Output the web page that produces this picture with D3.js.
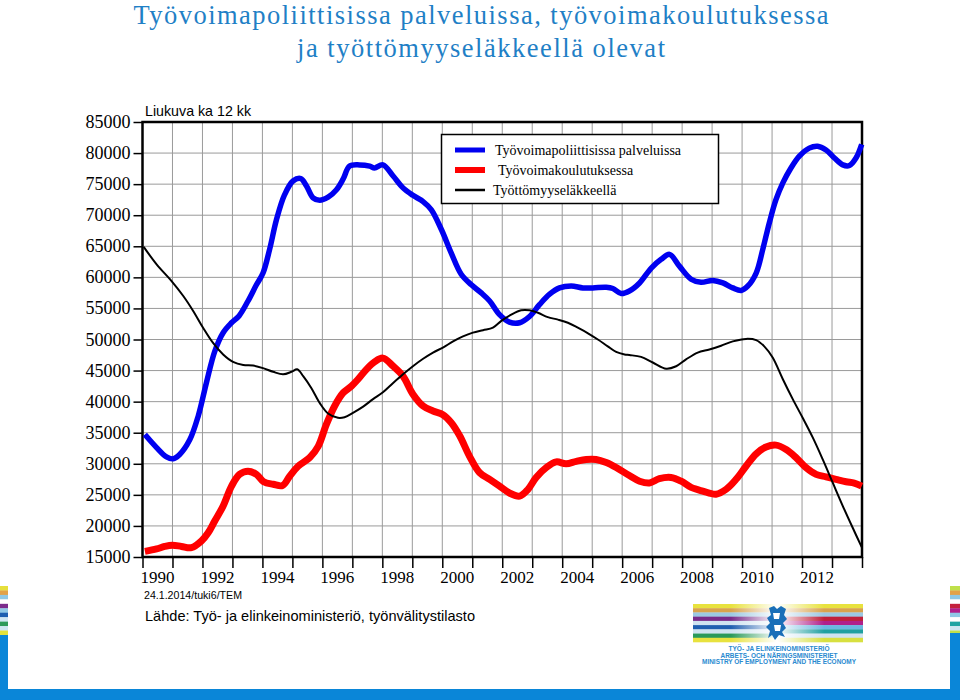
<!DOCTYPE html>
<html><head><meta charset="utf-8">
<script src="https://cdn.jsdelivr.net/npm/d3@7/dist/d3.min.js"></script>
<style>
html,body{margin:0;padding:0;background:#fff;}
svg{display:block;}
</style></head>
<body>
<svg id="c" width="960" height="700"></svg>
<script>
// ---- data (12-month moving averages) ----
const titleLines = ["Työvoimapoliittisissa palveluissa, työvoimakoulutuksessa", "ja työttömyyseläkkeellä olevat"];
const seriesNames = ["Työvoimapoliittisissa palveluissa", "Työvoimakoulutuksessa", "Työttömyyseläkkeellä"];
const yTicks = [15000,20000,25000,30000,35000,40000,45000,50000,55000,60000,65000,70000,75000,80000,85000];
const yearTicks = [1990,1991,1992,1993,1994,1995,1996,1997,1998,1999,2000,2001,2002,2003,2004,2005,2006,2007,2008,2009,2010,2011,2012,2013,2014];
const yearLabels = [1990,1992,1994,1996,1998,2000,2002,2004,2006,2008,2010,2012];

const palvelut = [[1990.08,34700],[1990.47,32600],[1990.8,31100],[1991.02,30800],[1991.24,31500],[1991.58,33900],[1991.86,37700],[1992.13,43000],[1992.41,48100],[1992.69,51100],[1992.97,52700],[1993.22,53800],[1993.52,56200],[1993.8,58800],[1994.02,60700],[1994.24,64500],[1994.47,69300],[1994.74,73300],[1995.02,75500],[1995.28,75900],[1995.47,74700],[1995.69,72800],[1995.91,72400],[1996.19,72900],[1996.47,74100],[1996.69,75800],[1996.91,77900],[1997.24,78100],[1997.58,77900],[1997.74,77600],[1998.02,78100],[1998.36,76300],[1998.69,74400],[1999.02,73200],[1999.36,72200],[1999.63,70900],[1999.97,67700],[2000.3,63900],[2000.63,60500],[2000.97,58800],[2001.3,57500],[2001.58,56200],[2001.91,54000],[2002.24,52800],[2002.58,52700],[2002.91,53700],[2003.24,55600],[2003.58,57300],[2003.91,58300],[2004.3,58600],[2004.69,58300],[2005.02,58300],[2005.47,58400],[2005.69,58200],[2005.97,57400],[2006.24,57800],[2006.58,59100],[2006.97,61500],[2007.3,62900],[2007.58,63700],[2007.91,61800],[2008.3,59700],[2008.63,59200],[2009.02,59500],[2009.36,59100],[2009.69,58300],[2009.97,57900],[2010.19,58600],[2010.47,60700],[2010.69,64500],[2010.91,68800],[2011.13,72500],[2011.36,75200],[2011.63,77600],[2011.91,79500],[2012.24,80800],[2012.52,81100],[2012.8,80500],[2013.08,79200],[2013.36,78100],[2013.58,78000],[2013.8,79200],[2013.99,81400]];

const koulutus = [[1990.08,15900],[1990.47,16300],[1990.74,16700],[1991.0,16900],[1991.3,16700],[1991.63,16500],[1991.97,17600],[1992.19,18900],[1992.41,20800],[1992.69,23200],[1992.97,26400],[1993.24,28300],[1993.52,28800],[1993.8,28300],[1994.04,27100],[1994.36,26700],[1994.67,26500],[1994.91,28000],[1995.19,29600],[1995.58,31000],[1995.86,32800],[1996.13,36300],[1996.41,39300],[1996.69,41400],[1996.97,42500],[1997.19,43600],[1997.47,45200],[1997.74,46400],[1998.02,47000],[1998.36,45700],[1998.69,44100],[1999.02,41200],[1999.36,39300],[1999.69,38500],[2000.02,37900],[2000.3,36600],[2000.58,34500],[2000.91,31200],[2001.24,28600],[2001.58,27500],[2001.91,26400],[2002.24,25300],[2002.58,24800],[2002.86,25900],[2003.13,27800],[2003.47,29400],[2003.8,30300],[2004.13,30000],[2004.47,30400],[2004.8,30700],[2005.13,30700],[2005.47,30200],[2005.8,29400],[2006.24,28100],[2006.58,27200],[2006.91,26900],[2007.24,27600],[2007.63,27800],[2007.97,27200],[2008.3,26200],[2008.69,25600],[2009.13,25100],[2009.47,25900],[2009.8,27500],[2010.13,29600],[2010.47,31600],[2010.8,32700],[2011.13,33000],[2011.47,32300],[2011.8,31000],[2012.13,29400],[2012.47,28300],[2012.8,27900],[2013.13,27500],[2013.47,27100],[2013.74,26900],[2013.99,26400]];

const elake = [[1990.04,64900],[1990.47,62100],[1990.97,59400],[1991.36,57000],[1991.69,54600],[1992.02,51900],[1992.36,49400],[1992.69,47600],[1993.02,46400],[1993.36,45900],[1993.69,45800],[1994.02,45400],[1994.36,44800],[1994.69,44400],[1994.97,44800],[1995.16,45200],[1995.36,44100],[1995.63,42200],[1995.91,39800],[1996.19,38100],[1996.52,37400],[1996.74,37500],[1997.02,38200],[1997.36,39200],[1997.69,40400],[1998.02,41500],[1998.36,43000],[1998.69,44400],[1999.02,45700],[1999.36,46900],[1999.69,47900],[2000.02,48700],[2000.36,49700],[2000.69,50500],[2001.02,51100],[2001.36,51500],[2001.69,51900],[2001.97,53000],[2002.3,54000],[2002.63,54700],[2002.91,54700],[2003.19,54300],[2003.52,53600],[2003.86,53200],[2004.19,52700],[2004.52,51900],[2004.86,51000],[2005.19,50000],[2005.52,48900],[2005.8,48000],[2006.08,47600],[2006.24,47500],[2006.63,47200],[2007.02,46300],[2007.47,45300],[2007.8,45700],[2008.13,46800],[2008.52,47900],[2008.91,48400],[2009.3,49000],[2009.69,49700],[2010.13,50100],[2010.47,49900],[2010.74,48900],[2011.02,47100],[2011.36,43600],[2011.69,40400],[2012.02,37400],[2012.36,34200],[2012.69,30700],[2013.02,27000],[2013.36,23200],[2013.69,19700],[2013.99,16600]];

const seriesColors = ["#0000f0", "#ff0000", "#000000"];
const seriesWidths = [5.5, 7, 2];

// ---- drawing ----
const svg = d3.select("#c");
const SERIF = "'Liberation Serif', 'Times New Roman', Times, serif";
const SANS = "'Liberation Sans', Arial, Helvetica, sans-serif";
const BRAND = "#0a86d8";

const x = d3.scaleLinear().domain([1990, 2014]).range([142.5, 862]);
const y = d3.scaleLinear().domain([15000, 85000]).range([557, 122]);

// title
const titleLen = [695, 368];
svg.selectAll("text.title").data(titleLines).enter().append("text")
  .attr("x", 481).attr("y", (d,i)=> i===0 ? 23.5 : 57)
  .attr("text-anchor","middle")
  .attr("textLength",(d,i)=>titleLen[i]).attr("lengthAdjust","spacing")
  .style("font-family", SERIF).style("font-size","26.5px").attr("fill","#1f80c6")
  .text(d=>d);

// grid
const grid = svg.append("g");
grid.selectAll("line.v").data(yearTicks).enter().append("line")
  .attr("x1", d=>x(d)).attr("x2", d=>x(d)).attr("y1", y(85000)).attr("y2", y(15000))
  .attr("stroke","#9a9a9a").attr("stroke-width",1);
grid.selectAll("line.h").data(yTicks).enter().append("line")
  .attr("x1", x(1990)).attr("x2", x(2014)).attr("y1", d=>y(d)).attr("y2", d=>y(d))
  .attr("stroke","#9a9a9a").attr("stroke-width",1);

// y axis (ticks by d3 axis, labels as plain text positioned by the scale)
const yAxis = d3.axisLeft(y).tickValues(yTicks).tickSize(9).tickFormat("");
const gy = svg.append("g").attr("transform",`translate(${x(1990)},0)`).call(yAxis);
gy.select(".domain").remove();
gy.selectAll(".tick line").attr("stroke","#000").attr("stroke-width",1.5);
svg.append("g").selectAll("text").data(yTicks).enter().append("text")
  .attr("x", x(1990)-12).attr("y", d=>y(d)+6).attr("text-anchor","end")
  .style("font-family", SERIF).style("font-size","18px").attr("fill","#000")
  .text(d=>String(d));

// x axis ticks
const xAxis = d3.axisBottom(x).tickValues(yearTicks).tickSize(11).tickFormat("");
const gx = svg.append("g").attr("transform",`translate(0,${y(15000)})`).call(xAxis);
gx.select(".domain").remove();
gx.selectAll(".tick line").attr("stroke","#000").attr("stroke-width",1.5);
// x labels centered in each labelled year
svg.append("g").selectAll("text").data(yearLabels).enter().append("text")
  .attr("x", d=>x(d+0.5)).attr("y", y(15000)+26).attr("text-anchor","middle")
  .style("font-family", SERIF).style("font-size","17px").attr("fill","#000")
  .text(d=>String(d));

// frame
svg.append("rect").attr("x", x(1990)).attr("y", y(85000))
  .attr("width", x(2014)-x(1990)).attr("height", y(15000)-y(85000))
  .attr("fill","none").attr("stroke","#000").attr("stroke-width",2.5);

// lines
const line = d3.line().x(d=>x(d[0])).y(d=>y(d[1])).curve(d3.curveCatmullRom.alpha(0.5));
const allSeries = [palvelut, koulutus, elake];
allSeries.forEach((s,i)=>{
  svg.append("path").datum(s).attr("d", line)
    .attr("fill","none").attr("stroke", seriesColors[i]).attr("stroke-width", seriesWidths[i])
    .attr("stroke-linejoin","round").attr("stroke-linecap","butt");
});

// legend
const lg = svg.append("g");
lg.append("rect").attr("x",441.5).attr("y",134.5).attr("width",277).attr("height",69)
  .attr("fill","#fff").attr("stroke","#000").attr("stroke-width",1.5);
const legTextX = [495, 498, 493];
const legendWidths = [5, 6, 2.5];
seriesNames.forEach((n,i)=>{
  const ly = 150 + i*20;
  lg.append("line").attr("x1",455).attr("x2",485).attr("y1",ly).attr("y2",ly)
    .attr("stroke",seriesColors[i]).attr("stroke-width",legendWidths[i]);
  lg.append("text").attr("x",legTextX[i]).attr("y",ly+5)
    .style("font-family",SERIF).style("font-size","14px").attr("fill","#000").text(n);
});

// annotations
svg.append("text").attr("x",145).attr("y",116).attr("textLength",106).attr("lengthAdjust","spacingAndGlyphs")
  .style("font-family",SANS).style("font-size","15px").text("Liukuva ka 12 kk");
svg.append("text").attr("x",144).attr("y",599).attr("textLength",98).attr("lengthAdjust","spacingAndGlyphs")
  .style("font-family",SANS).style("font-size","10.5px").text("24.1.2014/tuki6/TEM");
svg.append("text").attr("x",145).attr("y",621).attr("textLength",330).attr("lengthAdjust","spacingAndGlyphs")
  .style("font-family",SANS).style("font-size","15px").text("Lähde: Työ- ja elinkeinoministeriö, työnvälitystilasto");

// ---- decorative frame ----
const edgeLeft = ["#e6df3c","#e2a24a","#8fc8e6","#ffffff","#7b2c8c","#8fc8e6","#1d5fb0","#cfe6f2","#2e9a5a","#cfe6f2","#e2e23c"];
const edgeRight = ["#bfe04a","#e2a24a","#8fc8e6","#ffffff","#c4203c","#b0208a","#8fc8e6","#ffffff","#1fa3a3","#cfe6f2","#bfe04a"];
const edgeH = (635-586)/edgeLeft.length;
edgeLeft.forEach((c,i)=>svg.append("rect").attr("x",0).attr("y",586+i*edgeH).attr("width",8).attr("height",edgeH+0.3).attr("fill",c));
edgeRight.forEach((c,i)=>svg.append("rect").attr("x",950).attr("y",586+i*edgeH).attr("width",10).attr("height",edgeH+0.3).attr("fill",c));
svg.append("rect").attr("x",0).attr("y",635).attr("width",8).attr("height",65).attr("fill",BRAND);
svg.append("rect").attr("x",950).attr("y",633).attr("width",10).attr("height",67).attr("fill",BRAND);
svg.append("rect").attr("x",0).attr("y",689).attr("width",960).attr("height",11).attr("fill",BRAND);

// ---- logo ----
const defs = svg.append("defs");
const logoL = ["#e8e23e","#d9a24c","#9cc8e2","#7a2a8a","#cfe3f0","#1f5fb0","#cfe3f0","#2a9a5a","#e8e23e"];
const logoR = ["#e8e23e","#d9a24c","#9cc8e2","#c0203a","#b0208a","#6ab8e0","#1fa0a0","#cfe3f0","#d8e040"];
const lx0 = 693, lx1 = 863, ly0 = 604, ly1 = 642, lmid = 777;
const sh = (ly1-ly0)/logoL.length;
logoL.forEach((c,i)=>{
  const gL = defs.append("linearGradient").attr("id","gl"+i).attr("x1","0").attr("x2","1");
  gL.append("stop").attr("offset","0").attr("stop-color",c);
  gL.append("stop").attr("offset","0.45").attr("stop-color",c);
  gL.append("stop").attr("offset","1").attr("stop-color","#fff");
  svg.append("rect").attr("x",lx0).attr("y",ly0+i*sh).attr("width",lmid-lx0).attr("height",sh+0.3).attr("fill",`url(#gl${i})`);
  const gR = defs.append("linearGradient").attr("id","gr"+i).attr("x1","1").attr("x2","0");
  gR.append("stop").attr("offset","0").attr("stop-color",logoR[i]);
  gR.append("stop").attr("offset","0.45").attr("stop-color",logoR[i]);
  gR.append("stop").attr("offset","1").attr("stop-color","#fff");
  svg.append("rect").attr("x",lmid).attr("y",ly0+i*sh).attr("width",lx1-lmid).attr("height",sh+0.3).attr("fill",`url(#gr${i})`);
});
// lion crest (simplified)
const lion = svg.append("g").attr("transform",`translate(${lmid},623)`).attr("fill","#1a6fb8");
lion.append("path").attr("d","M-8,-15 L-3,-17 L0,-14 L4,-17 L9,-14 L7,-8 L10,-4 L6,0 L9,5 L5,9 L8,14 L2,12 L-2,17 L-5,12 L-9,15 L-7,8 L-11,4 L-7,0 L-10,-5 L-6,-8 Z");
lion.append("path").attr("d","M-4,-10 L3,-10 L2,-4 L-3,-4 Z M-3,2 L4,2 L3,8 L-2,8 Z").attr("fill","#fff");
const logoText = [["TYÖ- JA ELINKEINOMINISTERIÖ",651,101],["ARBETS- OCH NÄRINGSMINISTERIET",657.5,117],["MINISTRY OF EMPLOYMENT AND THE ECONOMY",664,154]];
logoText.forEach(t=>{
  svg.append("text").attr("x",lmid+2).attr("y",t[1]).attr("text-anchor","middle")
    .attr("textLength",t[2]).attr("lengthAdjust","spacingAndGlyphs")
    .style("font-family",SANS).style("font-size","7px").style("font-weight","bold").attr("fill","#2a8ad0").text(t[0]);
});
</script>
</body></html>
